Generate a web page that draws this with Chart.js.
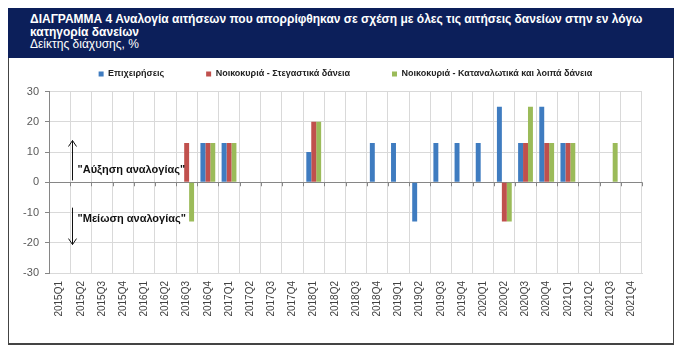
<!DOCTYPE html>
<html>
<head>
<meta charset="utf-8">
<script src="https://cdn.jsdelivr.net/npm/chart.js@4.4.0/dist/chart.umd.min.js"></script>
<style>
  body { margin: 0; background: #fff; width: 685px; height: 358px; overflow: hidden; font-family: 'Liberation Sans', Arial, sans-serif; }
  .frame { position: absolute; left: 8px; top: 8px; width: 666px; height: 337px; box-sizing: border-box; border: 1px solid #444; border-bottom-width: 2px; }
  .header { position: absolute; left: 8px; top: 8px; width: 666px; height: 50px; background: #0c1f5a; color: #fff; box-sizing: border-box; padding: 5px 0 0 22px; font-size: 12px; line-height: 12.5px; white-space: nowrap; }
  .header b { font-weight: bold; }
  #wrap { position: absolute; left: 9px; top: 20px; width: 663px; height: 324px; }
</style>
</head>
<body>
<div class="frame"></div>
<div class="header">
  <b>ΔΙΑΓΡΑΜΜΑ 4 Αναλογία αιτήσεων που απορρίφθηκαν σε σχέση με όλες τις αιτήσεις δανείων στην εν λόγω<br>κατηγορία δανείων</b><br>
  Δείκτης διάχυσης, %
</div>
<div id="wrap"><canvas id="barChart"></canvas></div>
<script>
// quarters on the x axis
const quarters = ['2015Q1', '2015Q2', '2015Q3', '2015Q4', '2016Q1', '2016Q2', '2016Q3', '2016Q4',
    '2017Q1', '2017Q2', '2017Q3', '2017Q4', '2018Q1', '2018Q2', '2018Q3', '2018Q4',
    '2019Q1', '2019Q2', '2019Q3', '2019Q4', '2020Q1', '2020Q2', '2020Q3', '2020Q4',
    '2021Q1', '2021Q2', '2021Q3', '2021Q4'];

const seriesNames = ['Επιχειρήσεις', 'Νοικοκυριά - Στεγαστικά δάνεια', 'Νοικοκυριά - Καταναλωτικά και λοιπά δάνεια'];

// values (diffusion index, %)
const businesses = [null, null, null, null, null, null, null, 13,
    13, null, null, null, 10, null, null, 13,
    13, -13, 13, 13, 13, 25, 13, 25,
    13, null, null, null];
const housing = [null, null, null, null, null, null, 13, 13,
    13, null, null, null, 20, null, null, null,
    null, null, null, null, null, -13, 13, 13,
    13, null, null, null];
const consumer = [null, null, null, null, null, null, -13, 13,
    13, null, null, null, 20, null, null, null,
    null, null, null, null, null, -13, 25, 13,
    13, null, 13, null];

const yTicks = [-30, -20, -10, 0, 10, 20, 30];
const notes = ['"Αύξηση αναλογίας"', '"Μείωση αναλογίας"'];

Chart.defaults.font.family = "'Liberation Sans', Arial, sans-serif";

// arrows, notes and the little ticks hanging off the zero line
const notesPlugin = {
    id: 'notes',
    beforeUpdate(chart) {
        const lg = chart.legend;
        if (lg && !lg._grown) {
            const fit = lg.fit;
            lg.fit = function () { fit.call(this); this.height += 3; };
            lg._grown = true;
        }
    },
    afterDraw(chart) {
        const ctx = chart.ctx;
        const x = chart.scales.x;
        const y = chart.scales.y;
        const step = (x.right - x.left) / quarters.length;
        const y0 = y.getPixelForValue(0);

        ctx.save();
        ctx.strokeStyle = '#868686';
        ctx.lineWidth = 1;
        for (let i = 0; i <= quarters.length; i++) {
            const px = Math.round(x.left + i * step) + 0.5;
            ctx.beginPath();
            ctx.moveTo(px, y0);
            ctx.lineTo(px, y0 + 4);
            ctx.stroke();
        }

        const ax = Math.round(x.getPixelForValue(0) + step * 0.6) + 0.5;
        ctx.strokeStyle = '#111';
        ctx.fillStyle = '#111';
        const arrow = (from, to) => {
            const a = y.getPixelForValue(from);
            const b = y.getPixelForValue(to);
            const dir = b < a ? 1 : -1;
            ctx.beginPath();
            ctx.moveTo(ax, a);
            ctx.lineTo(ax, b);
            ctx.moveTo(ax - 4, b + dir * 6);
            ctx.lineTo(ax, b);
            ctx.lineTo(ax + 4, b + dir * 6);
            ctx.stroke();
        };
        arrow(0.6, 13.8);
        arrow(-8.4, -20.6);

        ctx.font = "bold 11px 'Liberation Sans', Arial, sans-serif";
        ctx.textAlign = 'left';
        ctx.textBaseline = 'middle';
        ctx.fillText(notes[0], ax + 5, y.getPixelForValue(4));
        ctx.fillText(notes[1], ax + 5, y.getPixelForValue(-12.2));
        ctx.restore();
    }
};

const barChart = new Chart($id('barChart'), {
    type: 'bar',
    data: {
        labels: quarters,
        datasets: [
            { label: seriesNames[0], data: businesses, backgroundColor: '#3f7cc0' },
            { label: seriesNames[1], data: housing, backgroundColor: '#c0504d' },
            { label: seriesNames[2], data: consumer, backgroundColor: '#9bbb59' }
        ]
    },
    options: {
        responsive: true,
        maintainAspectRatio: false,
        animation: false,
        categoryPercentage: 0.7,
        barPercentage: 1.0,
        layout: { padding: { top: 7.5, right: 30, left: 0, bottom: 0 } },
        plugins: {
            tooltip: { enabled: false },
            legend: {
                position: 'top',
                fullSize: false,
                labels: {
                    boxWidth: 5,
                    boxHeight: 5,
                    padding: 42,
                    color: '#222',
                    font: { size: 9, weight: 'bold' }
                }
            }
        },
        scales: {
            x: {
                afterFit: scale => { scale.height = 71; },
                grid: { color: '#d9d9d9', offset: true, drawTicks: false },
                border: { color: '#d9d9d9' },
                ticks: {
                    autoSkip: false,
                    minRotation: 90,
                    maxRotation: 90,
                    padding: 8,
                    color: '#404040',
                    font: { size: 10 }
                }
            },
            y: {
                min: yTicks[0],
                max: yTicks[yTicks.length - 1],
                afterFit: scale => { scale.width = 40; },
                afterBuildTicks: scale => { scale.ticks = yTicks.map(v => ({ value: v })); },
                grid: {
                    color: ctx => ctx.tick && ctx.tick.value === 0 ? '#868686' : '#d9d9d9',
                    tickColor: '#868686',
                    tickLength: 4
                },
                border: { color: '#868686' },
                ticks: { padding: 6, color: '#595959', font: { size: 11 } }
            }
        }
    },
    plugins: [notesPlugin]
});

function $id(id) { return document.getElementById(id); }
</script>
</body>
</html>
